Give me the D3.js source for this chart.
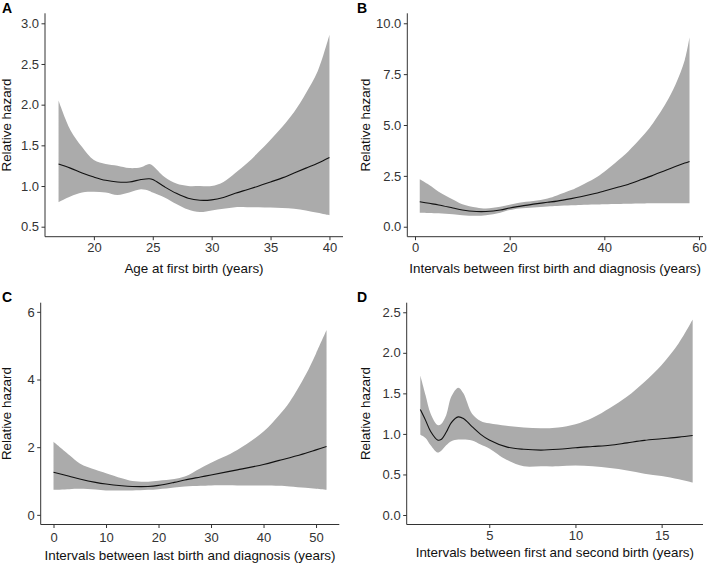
<!DOCTYPE html>
<html>
<head>
<meta charset="utf-8">
<script src="https://cdn.jsdelivr.net/npm/d3@7"></script>
<style>
  html, body { margin: 0; padding: 0; background: #fff; }
  svg { display: block; font-family: "Liberation Sans", Arial, sans-serif; }
</style>
</head>
<body>
<svg id="chart" width="709" height="564"></svg>
<script>
// ---------- Data ----------
// Panel A: Age at first birth
const aX    = [17, 18, 19, 20, 21, 22, 23, 24, 24.7, 25, 26, 27, 28, 29, 30, 31, 32, 33, 34, 35, 36, 37, 38, 39, 40];
const aFit  = [1.27, 1.22, 1.16, 1.11, 1.07, 1.05, 1.05, 1.08, 1.09, 1.08, 0.99, 0.91, 0.85, 0.825, 0.83, 0.86, 0.91, 0.955, 1.00, 1.05, 1.10, 1.16, 1.22, 1.28, 1.35];
const aLow  = [0.80, 0.87, 0.92, 0.93, 0.92, 0.89, 0.92, 0.96, 0.94, 0.92, 0.86, 0.78, 0.71, 0.68, 0.70, 0.72, 0.74, 0.74, 0.74, 0.735, 0.73, 0.72, 0.70, 0.67, 0.64];
const aHigh = [2.05, 1.69, 1.48, 1.32, 1.27, 1.25, 1.22, 1.23, 1.27, 1.25, 1.11, 1.03, 1.00, 1.00, 1.00, 1.05, 1.16, 1.28, 1.42, 1.57, 1.73, 1.91, 2.14, 2.41, 2.86];
const aXTicks = [20, 25, 30, 35, 40];
const aYTicks = [0.5, 1.0, 1.5, 2.0, 2.5, 3.0];

// Panel B: Intervals between first birth and diagnosis
const bX    = [1, 3, 5, 8, 10, 13, 15, 18, 20, 22, 25, 28, 30, 33, 35, 38, 40, 43, 45, 48, 50, 53, 55, 57, 58];
const bFit  = [1.23, 1.15, 1.07, 0.92, 0.82, 0.75, 0.75, 0.82, 0.92, 1.00, 1.11, 1.20, 1.26, 1.38, 1.47, 1.63, 1.76, 1.95, 2.08, 2.33, 2.50, 2.78, 2.96, 3.13, 3.21];
const bLow  = [0.69, 0.68, 0.66, 0.61, 0.57, 0.54, 0.57, 0.69, 0.82, 0.90, 0.95, 1.00, 1.02, 1.05, 1.07, 1.09, 1.11, 1.12, 1.13, 1.14, 1.15, 1.15, 1.15, 1.15, 1.15];
const bHigh = [2.33, 2.05, 1.72, 1.34, 1.11, 0.95, 0.90, 0.98, 1.08, 1.18, 1.26, 1.39, 1.54, 1.80, 2.02, 2.38, 2.70, 3.28, 3.69, 4.43, 5.00, 6.07, 6.97, 8.20, 9.31];
const bXTicks = [0, 20, 40, 60];
const bYTicks = [0, 2.5, 5, 7.5, 10];

// Panel C: Intervals between last birth and diagnosis
const cX    = [0, 3, 5, 8, 10, 13, 15, 18, 20, 23, 25, 28, 30, 35, 40, 43, 45, 48, 50, 52];
const cFit  = [1.26, 1.14, 1.06, 0.96, 0.91, 0.86, 0.84, 0.84, 0.87, 0.96, 1.03, 1.12, 1.18, 1.33, 1.49, 1.61, 1.69, 1.82, 1.92, 2.02];
const cLow  = [0.74, 0.76, 0.77, 0.75, 0.72, 0.72, 0.72, 0.74, 0.76, 0.81, 0.84, 0.86, 0.87, 0.87, 0.87, 0.86, 0.84, 0.80, 0.77, 0.74];
const cHigh = [2.16, 1.77, 1.52, 1.33, 1.23, 1.08, 1.00, 0.98, 1.01, 1.06, 1.13, 1.38, 1.54, 1.92, 2.46, 2.95, 3.34, 4.13, 4.77, 5.46];
const cXTicks = [0, 10, 20, 30, 40, 50];
const cYTicks = [0, 2, 4, 6];

// Panel D: Intervals between first and second birth
const dX    = [1.0, 1.3, 1.6, 2.0, 2.2, 2.5, 2.8, 3.2, 3.5, 4.0, 4.5, 5, 6, 7, 8, 9, 10, 11, 12, 13, 14, 15, 16, 16.8];
const dFit  = [1.30, 1.17, 1.03, 0.925, 0.93, 1.02, 1.14, 1.21, 1.19, 1.09, 0.995, 0.925, 0.84, 0.81, 0.80, 0.81, 0.83, 0.845, 0.86, 0.89, 0.92, 0.94, 0.96, 0.98];
const dLow  = [0.99, 0.95, 0.86, 0.77, 0.79, 0.86, 0.91, 0.93, 0.93, 0.92, 0.87, 0.82, 0.68, 0.60, 0.60, 0.60, 0.61, 0.60, 0.58, 0.55, 0.51, 0.48, 0.44, 0.40];
const dHigh = [1.72, 1.48, 1.25, 1.11, 1.12, 1.23, 1.46, 1.57, 1.50, 1.25, 1.16, 1.13, 1.10, 1.08, 1.07, 1.08, 1.12, 1.20, 1.32, 1.46, 1.64, 1.85, 2.12, 2.41];
const dXTicks = [5, 10, 15];
const dYTicks = [0, 0.5, 1.0, 1.5, 2.0, 2.5];

const panelLetters = ["A", "B", "C", "D"];
const xTitles = [
  "Age at first birth (years)",
  "Intervals between first birth and diagnosis (years)",
  "Intervals between last birth and diagnosis (years)",
  "Intervals between first and second birth (years)"
];
const yTitle = "Relative hazard";

// ---------- Layout ----------
const panels = [
  { x: aX, fit: aFit, lo: aLow, hi: aHigh, xt: aXTicks, yt: aYTicks, fmt: d3.format(".1f"),
    xd: [15.85, 41.15], yd: [0.377, 3.123], left: 45, right: 343, top: 13.3, bottom: 236.7,
    letterX: 2, yTitleX: 11, titleOff: 36, tickPad: 3 },
  { x: bX, fit: bFit, lo: bLow, hi: bHigh, xt: bXTicks, yt: bYTicks, fmt: d3.format(".1f"),
    xd: [-1.63, 60.85], yd: [-0.49, 10.49], left: 407.3, right: 703, top: 13.3, bottom: 236.7,
    letterX: 357, yTitleX: 370, titleOff: 36.3, tickPad: 3 },
  { x: cX, fit: cFit, lo: cLow, hi: cHigh, xt: cXTicks, yt: cYTicks, fmt: d3.format("d"),
    xd: [-2.44, 54.43], yd: [-0.285, 6.27], left: 40.7, right: 339.3, top: 302.7, bottom: 524.5,
    letterX: 2, yTitleX: 11, titleOff: 35.3, tickPad: 4.5 },
  { x: dX, fit: dFit, lo: dLow, hi: dHigh, xt: dXTicks, yt: dYTicks, fmt: d3.format(".1f"),
    xd: [0.21, 17.4], yd: [-0.117, 2.618], left: 406.7, right: 703, top: 302.7, bottom: 524.5,
    letterX: 357, yTitleX: 370, titleOff: 32.3, tickPad: 2.5 }
];

const svg = d3.select("#chart");
const tickColor = "#333333";

panels.forEach((p, i) => {
  const xs = d3.scaleLinear().domain(p.xd).range([p.left, p.right]);
  const ys = d3.scaleLinear().domain(p.yd).range([p.bottom, p.top]);
  const g = svg.append("g");
  const pts = p.x.map((v, k) => ({ x: v, fit: p.fit[k], lo: p.lo[k], hi: p.hi[k] }));

  const curve = d3.curveCatmullRom.alpha(0.5);
  g.append("path")
    .datum(pts)
    .attr("fill", "#ababab")
    .attr("d", d3.area().curve(curve).x(d => xs(d.x)).y0(d => ys(d.lo)).y1(d => ys(d.hi)));
  g.append("path")
    .datum(pts)
    .attr("fill", "none")
    .attr("stroke", "#111")
    .attr("stroke-width", 1.1)
    .attr("d", d3.line().curve(curve).x(d => xs(d.x)).y(d => ys(d.fit)));

  // axes
  const xAxis = g.append("g").attr("transform", `translate(0,${p.bottom})`)
    .call(d3.axisBottom(xs).tickValues(p.xt).tickSize(3.5).tickPadding(p.tickPad).tickFormat(d3.format("d")));
  const yAxis = g.append("g").attr("transform", `translate(${p.left},0)`)
    .call(d3.axisLeft(ys).tickValues(p.yt).tickSize(3.5).tickPadding(2.5).tickFormat(p.fmt));
  [xAxis, yAxis].forEach(ax => {
    ax.select(".domain").attr("stroke", "#333").attr("stroke-width", 1);
    ax.selectAll(".tick line").attr("stroke", "#333").attr("stroke-width", 1);
    ax.selectAll(".tick text").attr("fill", tickColor).style("font-size", "13px")
      .style("font-family", "'Liberation Sans', Arial, sans-serif");
  });
  xAxis.select(".domain").attr("d", `M${p.left},0H${p.right}`);
  yAxis.select(".domain").attr("d", `M0,${p.top}V${p.bottom}`);

  // titles
  g.append("text")
    .attr("x", (p.left + p.right) / 2)
    .attr("y", p.bottom + p.titleOff)
    .attr("text-anchor", "middle")
    .attr("fill", "#111")
    .style("font-size", "13.4px")
    .text(xTitles[i]);
  g.append("text")
    .attr("transform", `translate(${p.yTitleX},${(p.top + p.bottom) / 2}) rotate(-90)`)
    .attr("text-anchor", "middle")
    .attr("fill", "#111")
    .style("font-size", "13.4px")
    .text(yTitle);
  g.append("text")
    .attr("x", p.letterX)
    .attr("y", p.top - 0.5)
    .attr("fill", "#000")
    .style("font-size", "14px")
    .style("font-weight", "bold")
    .text(panelLetters[i]);
});
</script>
</body>
</html>
